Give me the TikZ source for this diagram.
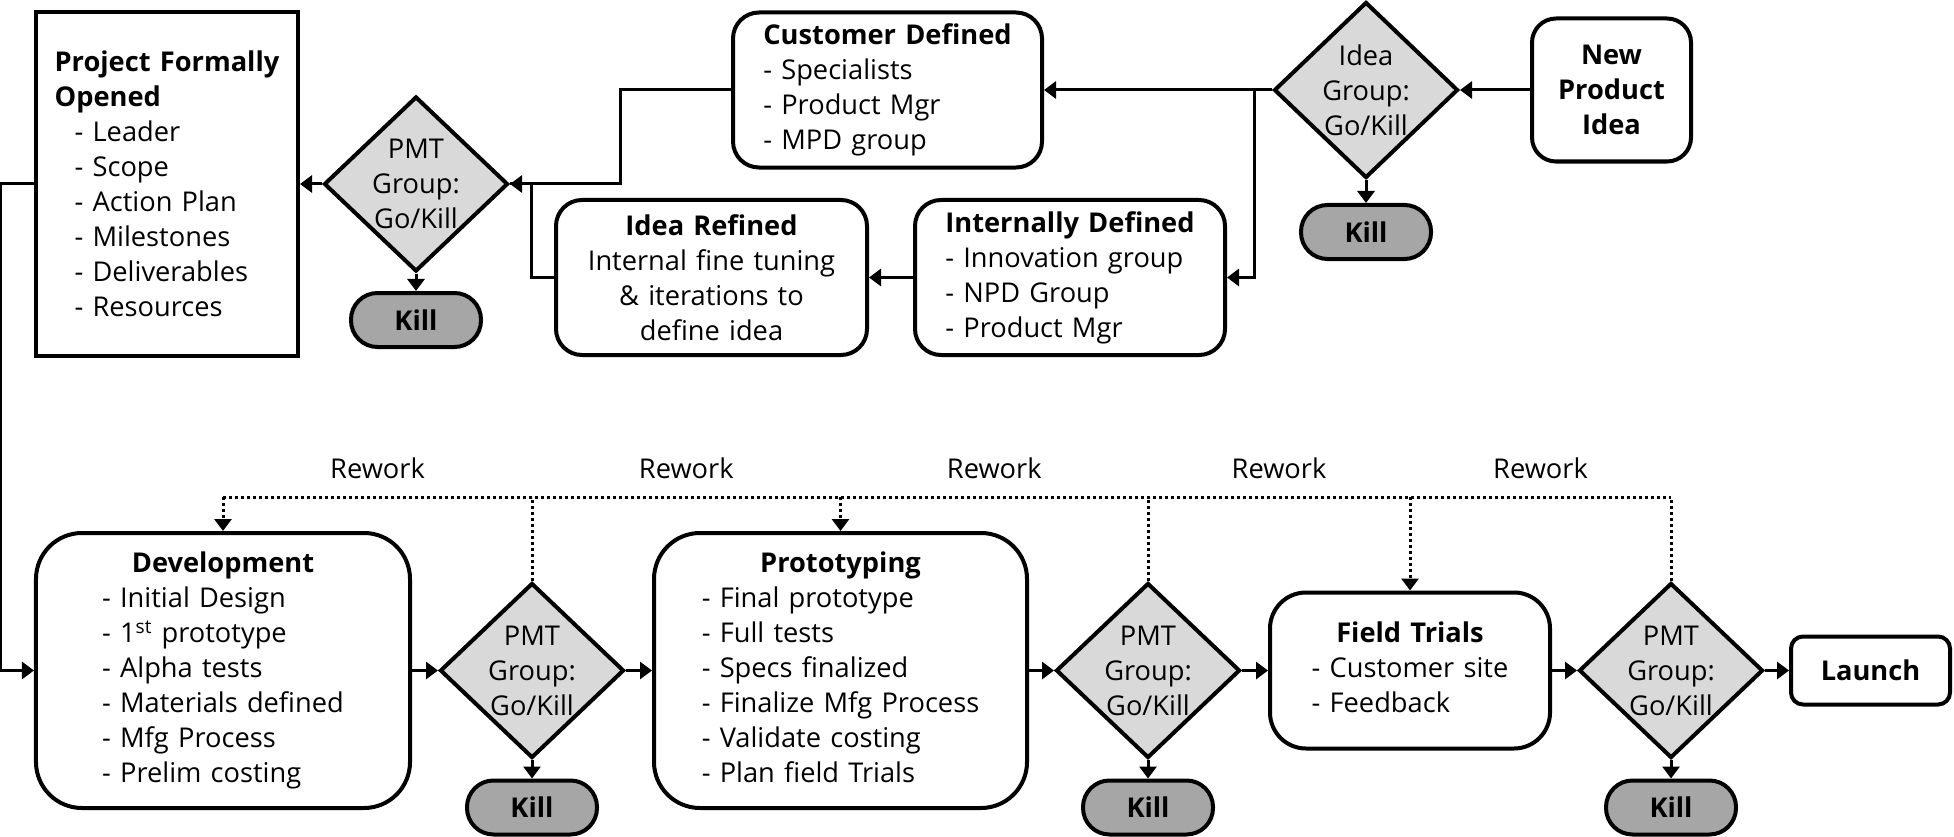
\documentclass[tikz,border=0pt]{standalone}
\usepackage{fontspec}
\setmainfont{Open Sans}[WordSpace=1.3]
\usetikzlibrary{arrows.meta,shapes.geometric}
\begin{document}
\begin{tikzpicture}[>={Triangle[length=2.4mm,width=3.4mm]}, x=0.2mm, y=-0.2mm, line width=0.6mm,
     font=\fontsize{15.5pt}{19.9pt}\selectfont,
     phase/.style={draw, line width=0.8mm, rounded corners=5.2mm, inner sep=0pt, minimum width=62mm, minimum height=31mm},
     gate/.style={diamond, draw, line width=0.8mm, fill=gray!30, inner sep=-1.5mm, minimum width=36.8mm, minimum height=35mm, align=center},
     killbox/.style={draw, line width=0.8mm, fill=gray!70, rounded corners=5.3mm, minimum width=26mm, minimum height=10.8mm, font=\fontsize{15.5pt}{19.9pt}\selectfont\bfseries},
     rework/.style={line width=0.6mm, dash pattern=on 0.6mm off 0.6mm},
     rwlabel/.style={anchor=south, yshift=3.4mm, inner sep=0pt}]
     \useasboundingbox (0,0) rectangle (1954,837);
     \node[phase, sharp corners, minimum width=52.4mm, minimum height=68.8mm, align=left] (proj) at (167,184)
         {\textbf{Project Formally}\\\textbf{Opened}\\\hspace*{4mm}- Leader\\\hspace*{4mm}- Scope\\\hspace*{4mm}- Action Plan\\\hspace*{4mm}- Milestones\\\hspace*{4mm}- Deliverables\\\hspace*{4mm}- Resources};
     \node[gate] (p0) at (416,184) {PMT\\Group:\\Go/Kill};
     \node[killbox] (k0) at (416,320) {Kill};
     \node[phase, minimum width=61.8mm, align=left] (cd) at (887.5,90) {\textbf{Customer Defined}\\- Specialists\\- Product Mgr\\- MPD group};
     \node[phase, minimum width=62.2mm, align=center] (ir) at (711.5,277.5) {\textbf{Idea Refined}\\Internal fine tuning\\\& iterations to\\define idea};
     \node[phase, align=left] (id) at (1070,277.5) {\textbf{Internally Defined}\\- Innovation group\\- NPD Group\\- Product Mgr};
     \node[gate, minimum height=35.2mm] (pidea) at (1366,90) {Idea\\Group:\\Go/Kill};
     \node[killbox] (k1) at (1366,232) {Kill};
     \node[phase, rounded corners=4.8mm, minimum width=31.8mm, minimum height=28.6mm, align=center, font=\fontsize{15.5pt}{19.9pt}\selectfont\bfseries] (npi) at (1611.5,90) {New\\Product\\Idea};
     \node[phase, rounded corners=9.2mm, minimum width=74.8mm, minimum height=55mm] (dev) at (223,670.5)
         {\begin{tabular}{@{}l@{}}\multicolumn{1}{@{}c@{}}{\textbf{Development}}\\- Initial Design\\- 1\textsuperscript{st} prototype\\- Alpha tests\\- Materials defined\\- Mfg Process\\- Prelim costing\end{tabular}};
     \node[gate] (p1) at (532,670.5) {PMT\\Group:\\Go/Kill};
     \node[killbox] (k2) at (532,807.5) {Kill};
     \node[phase, rounded corners=9.2mm, minimum width=74.6mm, minimum height=55mm] (proto) at (840.5,670.5)
         {\begin{tabular}{@{}l@{}}\multicolumn{1}{@{}c@{}}{\textbf{Prototyping}}\\- Final prototype\\- Full tests\\- Specs finalized\\- Finalize Mfg Process\\- Validate costing\\- Plan field Trials\end{tabular}};
     \node[gate] (p2) at (1148,670.5) {PMT\\Group:\\Go/Kill};
     \node[killbox] (k3) at (1148,807.5) {Kill};
     \node[phase, rounded corners=7.2mm, minimum width=56mm, minimum height=31.2mm] (ft) at (1410,670.5)
         {\begin{tabular}{@{}l@{}}\multicolumn{1}{@{}c@{}}{\textbf{Field Trials}}\\- Customer site\\- Feedback\end{tabular}};
     \node[gate] (p3) at (1671,670.5) {PMT\\Group:\\Go/Kill};
     \node[killbox] (k4) at (1671,807.5) {Kill};
     \node[phase, rounded corners=2.4mm, minimum width=31.8mm, minimum height=13.6mm, font=\fontsize{15.5pt}{19.9pt}\selectfont\bfseries] (launch) at (1870.5,670.5) {Launch};
     \draw[->] (npi.west) -- (pidea.east);
     \draw[->] (pidea.west) -- (cd.east);
     \draw[->] (pidea.west) -- ++(-18,0) |- (id.east);
     \draw[->] (id.west) -- (ir.east);
     \draw[->] (cd.west) -- ++(-111,0) |- (p0.east);
     \draw (ir.west) -- ++(-23,0) |- (p0.east);
     \draw[->] (p0.west) -- (proj.east);
     \draw[->] (proj.west) -- ++(-33,0) |- (dev.west);
     \foreach \g/\k in {p0/k0, pidea/k1, p1/k2, p2/k3, p3/k4}
     {
         \draw[->] (\g.south) -- (\k.north);
     }
     \foreach \a/\b in {dev/p1, p1/proto, proto/p2, p2/ft, ft/p3, p3/launch}
     {
         \draw[->] (\a.east) -- (\b.west);
     }
     \coordinate (rw) at (0,497);
     \draw[rework] (dev.north |- rw) -- node[rwlabel]{Rework} (p1.north |- rw) -- node[rwlabel]{Rework} (proto.north |- rw)
         -- node[rwlabel]{Rework} (p2.north |- rw) -- node[rwlabel]{Rework} (ft.north |- rw) -- node[rwlabel]{Rework} (p3.north |- rw);
     \foreach \g in {p1,p2,p3}
     {
         \draw[rework] (\g.north) -- (\g.north |- rw);
     }
     \foreach \n in {dev,proto,ft}
     {
         \draw[rework,->] (\n.north |- rw) -- (\n.north);
     }
 \end{tikzpicture}
\end{document}
